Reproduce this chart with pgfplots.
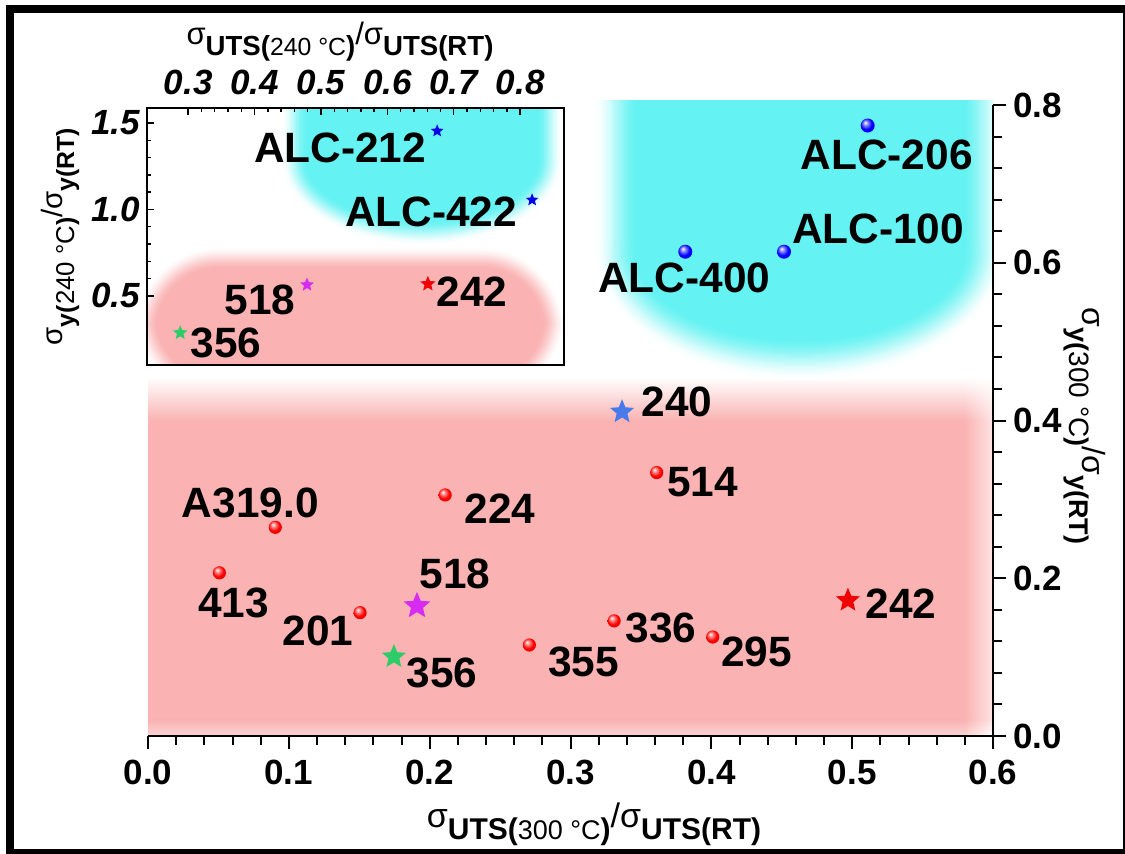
\documentclass[border=0pt]{standalone}
\usepackage{pgfplots}
\pgfplotsset{compat=1.18}
\usetikzlibrary{shadings}
\usepackage{fontspec}
\setmainfont{Liberation Sans}
\definecolor{pinkc}{RGB}{250,178,178}
\definecolor{cyanc}{RGB}{100,242,242}
\definecolor{starblue}{RGB}{72,122,235}
\definecolor{starmag}{RGB}{214,44,242}
\definecolor{stargreen}{RGB}{46,204,104}
\definecolor{starred}{RGB}{240,0,0}
\definecolor{deepblue}{RGB}{0,0,235}

\pgfdeclareradialshading{redballsh}{\pgfpoint{-9bp}{11bp}}{color(0bp)=(white); color(8bp)=(red!45!white); color(20bp)=(red); color(42bp)=(red!88!black); color(50bp)=(red!75!black)}
\pgfdeclareradialshading{blueballsh}{\pgfpoint{-9bp}{11bp}}{color(0bp)=(white); color(8bp)=(blue!45!white); color(20bp)=(blue); color(42bp)=(blue!88!black); color(50bp)=(blue!75!black)}

\pgfdeclareplotmark{rball}{\pgfpathcircle{\pgfpointorigin}{\pgfplotmarksize}\pgfshadepath{redballsh}{0}\pgfusepath{}}
\pgfdeclareplotmark{bball}{\pgfpathcircle{\pgfpointorigin}{\pgfplotmarksize}\pgfshadepath{blueballsh}{0}\pgfusepath{}}
\pgfdeclareplotmark{fstar}{%
 \pgfpathmoveto{\pgfpointpolar{90}{\pgfplotmarksize}}%
 \pgfpathlineto{\pgfpointpolar{126}{0.45\pgfplotmarksize}}%
 \pgfpathlineto{\pgfpointpolar{162}{\pgfplotmarksize}}%
 \pgfpathlineto{\pgfpointpolar{198}{0.45\pgfplotmarksize}}%
 \pgfpathlineto{\pgfpointpolar{234}{\pgfplotmarksize}}%
 \pgfpathlineto{\pgfpointpolar{270}{0.45\pgfplotmarksize}}%
 \pgfpathlineto{\pgfpointpolar{306}{\pgfplotmarksize}}%
 \pgfpathlineto{\pgfpointpolar{342}{0.45\pgfplotmarksize}}%
 \pgfpathlineto{\pgfpointpolar{18}{\pgfplotmarksize}}%
 \pgfpathlineto{\pgfpointpolar{54}{0.45\pgfplotmarksize}}%
 \pgfpathclose
 \pgfusepathqfill}

% soft rounded-rectangle blob: #1 colour, #2 x1, #3 y1, #4 x2, #5 y2 (axis units),
% #6 corner radius (pt), #7 fade width (pt), #8 steps
\newcommand{\rblob}[8]{%
 \foreach \bk in {1,...,#8}{%
   \pgfmathsetmacro{\bd}{(\bk-1)*#7/#8}%
   \pgfmathsetmacro{\br}{max(#6-\bd,1)}%
   \pgfmathsetmacro{\bt}{\bk/#8}%
   \pgfmathtruncatemacro{\bc}{round(100*\bt*\bt*(3-2*\bt))}%
   \edef\bdo{\noexpand\fill[#1!\bc!white, rounded corners=\br pt] ([xshift=\bd pt,yshift=\bd pt]axis cs:#2,#3) rectangle ([xshift=-\bd pt,yshift=-\bd pt]axis cs:#4,#5);}%
   \bdo
 }}
% soft blob = lower half-ellipse united with a rectangle above it:
% #1 colour, #2 cx, #3 cy, #4 rx (pt), #5 ry (pt), #6 top y (axis), #7 fade width (pt), #8 steps
\newcommand{\eblob}[8]{%
 \foreach \bk in {1,...,#8}{%
   \pgfmathsetmacro{\bd}{(\bk-1)*#7/#8}%
   \pgfmathsetmacro{\bx}{#4-\bd}%
   \pgfmathsetmacro{\by}{#5-\bd}%
   \pgfmathsetmacro{\bt}{\bk/#8}%
   \pgfmathtruncatemacro{\bc}{round(100*\bt*\bt*(3-2*\bt))}%
   \edef\bdo{\noexpand\fill[#1!\bc!white] (axis cs:#2,#3) ellipse [x radius=\bx pt, y radius=\by pt];
     \noexpand\fill[#1!\bc!white] ([xshift=-\bx pt]axis cs:#2,#3) rectangle ([xshift=\bx pt]axis cs:#2,#6);}%
   \bdo
 }}

% #1 sigma size, #2 bold sub size, #3 regular sub size, #4 subscript name, #5 temperature, #6 drop
\newcommand{\ratiotitle}[6]{\mbox{{\fontsize{#1}{#1}\selectfont σ}\raisebox{-#6}{\fontsize{#2}{#2}\selectfont\bfseries #4(}\raisebox{-#6}{\fontsize{#3}{#3}\selectfont #5 °C}\raisebox{-#6}{\fontsize{#2}{#2}\selectfont\bfseries )}{\fontsize{#1}{#1}\selectfont /σ}\raisebox{-#6}{\fontsize{#2}{#2}\selectfont\bfseries #4(RT)}}}

\tikzset{lbl/.style={font=\fontsize{21.2}{21.2}\selectfont\bfseries, inner sep=0pt, anchor=center}}

\begin{document}
\begin{tikzpicture}
%================ main axis ================
\begin{axis}[
  name=main, at={(0pt,0pt)}, anchor=south west,
  scale only axis, width=422.5pt, height=315.5pt,
  xmin=0, xmax=0.6, ymin=0, ymax=0.8,
  set layers, clip=false,
  axis x line=bottom, axis y line=right,
  axis line style={-, line width=1.2pt},
  xtick={0,0.1,0.2,0.3,0.4,0.5,0.6},
  ytick={0,0.2,0.4,0.6,0.8},
  minor x tick num=4, minor y tick num=4,
  tick align=outside,
  major tick length=6.5pt, minor tick length=4.5pt,
  tick style={black, line width=1pt},
  tick label style={font=\fontsize{17.5}{17.5}\selectfont\bfseries},
  /pgf/number format/assume math mode=true,
  xticklabel style={yshift=-2pt, /pgf/number format/.cd, fixed, fixed zerofill, precision=1},
  yticklabel style={/pgf/number format/.cd, fixed, fixed zerofill, precision=1},
]
\begin{pgfonlayer}{axis background}
\begin{scope}
\clip (axis cs:0,0) rectangle (axis cs:0.6,0.806);
\fill[pinkc] (axis cs:0,0.02) rectangle (axis cs:0.58,0.40);
\shade[bottom color=pinkc, top color=white] (axis cs:0,0.3995) rectangle (axis cs:0.58,0.455);
\shade[top color=pinkc, bottom color=pinkc!55!white] (axis cs:0,0) rectangle (axis cs:0.58,0.0205);
\shade[left color=pinkc, right color=pinkc!35!white] (axis cs:0.5795,0.02) rectangle (axis cs:0.6,0.40);
\shade[lower left=pinkc, upper left=white, upper right=white, lower right=pinkc!35!white] (axis cs:0.5795,0.3995) rectangle (axis cs:0.6,0.455);
\shade[upper left=pinkc, lower left=pinkc!55!white, upper right=pinkc!35!white, lower right=white] (axis cs:0.5795,0) rectangle (axis cs:0.6,0.0205);
\eblob{cyanc}{0.4630}{0.6162}{102.5}{65}{1.05}{22}{24}
\end{scope}
\end{pgfonlayer}

% red balls: A319.0, 413, 201, 224, 355, 336, 514, 295
\addplot[only marks, mark=rball, mark size=3.3pt] coordinates {
 (0.0904,0.2646) (0.0507,0.2069) (0.1506,0.1564) (0.2110,0.3056)
 (0.2708,0.1154) (0.3310,0.1460) (0.3612,0.3340) (0.4010,0.1255)};
% blue balls: ALC-400, ALC-100, ALC-206
\addplot[only marks, mark=bball, mark size=3.5pt] coordinates {
 (0.3815,0.614) (0.4516,0.614) (0.511,0.774)};
% stars
\addplot[only marks, mark=fstar, mark size=6.3pt, color=starblue] coordinates {(0.3366,0.411)};
\addplot[only marks, mark=fstar, mark size=7pt, color=starmag] coordinates {(0.191,0.165)};
\addplot[only marks, mark=fstar, mark size=6.3pt, color=stargreen] coordinates {(0.1746,0.1005)};
\addplot[only marks, mark=fstar, mark size=6.3pt, color=starred] coordinates {(0.497,0.172)};

\node[lbl, xshift=9.5pt, yshift=-14.6pt] at (axis cs:0.511,0.774) {ALC-206};
\node[lbl, xshift=47pt, yshift=11.5pt] at (axis cs:0.4516,0.614) {ALC-100};
\node[lbl, xshift=-0.5pt, yshift=-13pt] at (axis cs:0.3815,0.614) {ALC-400};
\node[lbl, xshift=27.5pt, yshift=5pt] at (axis cs:0.3366,0.411) {240};
\node[lbl, xshift=23pt, yshift=-5pt] at (axis cs:0.3612,0.334) {514};
\node[lbl, xshift=26.5pt, yshift=-1.5pt] at (axis cs:0.497,0.172) {242};
\node[lbl, xshift=23.5pt, yshift=-3.5pt] at (axis cs:0.331,0.146) {336};
\node[lbl, xshift=22pt, yshift=-7.5pt] at (axis cs:0.401,0.1255) {295};
\node[lbl, xshift=-12.5pt, yshift=12pt] at (axis cs:0.0904,0.2646) {A319.0};
\node[lbl, xshift=7pt, yshift=-15pt] at (axis cs:0.0507,0.2069) {413};
\node[lbl, xshift=-21pt, yshift=-9pt] at (axis cs:0.1506,0.1564) {201};
\node[lbl, xshift=19pt, yshift=16pt] at (axis cs:0.191,0.165) {518};
\node[lbl, xshift=24pt, yshift=-8pt] at (axis cs:0.1746,0.1005) {356};
\node[lbl, xshift=27.5pt, yshift=-7pt] at (axis cs:0.2110,0.3056) {224};
\node[lbl, xshift=27pt, yshift=-8.5pt] at (axis cs:0.2708,0.1154) {355};

\node[anchor=center, inner sep=0pt] at ([xshift=11.75pt, yshift=-44pt]rel axis cs:0.5,0)
  {\ratiotitle{17}{15}{13.5}{UTS}{300}{6pt}};
\node[anchor=center, inner sep=0pt, rotate=-90] at ([xshift=46pt, yshift=-2.75pt]rel axis cs:1,0.5)
  {\ratiotitle{16}{13.5}{14}{y}{300}{6.5pt}};
\end{axis}

%================ inset axis ================
\begin{axis}[
  name=inset, at={(-0.5pt,185.5pt)}, anchor=south west,
  scale only axis, width=208.5pt, height=128.5pt,
  xmin=0.238, xmax=0.866, ymin=0.1, ymax=1.587,
  set layers, clip=false,
  axis line style={line width=0.9pt},
  xtick pos=right, xticklabel pos=right, ytick pos=left, yticklabel pos=left,
  xtick={0.3,0.4,0.5,0.6,0.7,0.8}, ytick={0.5,1.0,1.5},
  minor x tick num=4, minor y tick num=4,
  tick align=inside, major tick length=3.5pt, minor tick length=2pt,
  tick style={black, line width=0.7pt},
  tick label style={font=\fontsize{17.5}{17.5}\selectfont\bfseries\itshape},
  /pgf/number format/assume math mode=true,
  xticklabel style={yshift=3pt, /pgf/number format/.cd, fixed, fixed zerofill, precision=1},
  yticklabel style={/pgf/number format/.cd, fixed, fixed zerofill, precision=1},
]
\begin{pgfonlayer}{axis background}
\begin{scope}
\clip (rel axis cs:0,0) rectangle (rel axis cs:1,1);
\eblob{cyanc}{0.6524}{1.2861}{70}{42.5}{2.0}{13}{20}
\rblob{pinkc}{0.2202}{-0.101}{0.8678}{0.7832}{42}{12}{18}
\end{scope}
\end{pgfonlayer}

\addplot[only marks, mark=fstar, mark size=3.3pt, color=deepblue] coordinates {(0.675,1.454) (0.818,1.055)};
\addplot[only marks, mark=fstar, mark size=3.6pt, color=starmag] coordinates {(0.479,0.564)};
\addplot[only marks, mark=fstar, mark size=4pt, color=starred] coordinates {(0.661,0.569)};
\addplot[only marks, mark=fstar, mark size=3.8pt, color=stargreen] coordinates {(0.288,0.286)};

\node[lbl, xshift=-48.5pt, yshift=-8.5pt] at (axis cs:0.675,1.454) {ALC-212};
\node[lbl, xshift=-50.5pt, yshift=-6pt] at (axis cs:0.818,1.055) {ALC-422};
\node[lbl, xshift=-23.5pt, yshift=-7.5pt] at (axis cs:0.479,0.564) {518};
\node[lbl, xshift=22pt, yshift=-4pt] at (axis cs:0.661,0.569) {242};
\node[lbl, xshift=23pt, yshift=-5pt] at (axis cs:0.288,0.286) {356};

\node[anchor=center, inner sep=0pt] at ([xshift=-7.75pt, yshift=33pt]rel axis cs:0.5,1)
  {\ratiotitle{15.5}{13.8}{12.4}{UTS}{240}{5.5pt}};
\node[anchor=center, inner sep=0pt, rotate=90] at ([xshift=-43.5pt]rel axis cs:0,0.5)
  {\ratiotitle{14.7}{12.4}{12.9}{y}{240}{6pt}};
\end{axis}

\draw[line width=4pt] (-69pt,-58.5pt) rectangle (489.5pt,363.5pt);
\pgfresetboundingbox
\useasboundingbox (-74pt,-58.5pt) rectangle (488.5pt,368pt);
\end{tikzpicture}
\end{document}
